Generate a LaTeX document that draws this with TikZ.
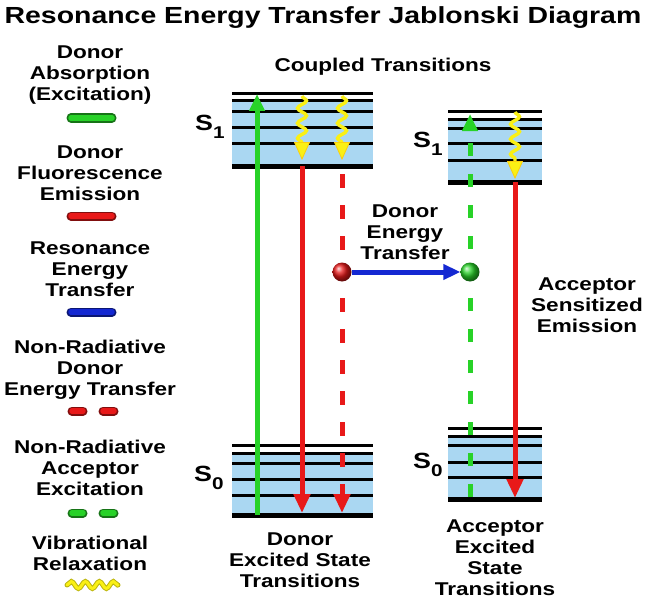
\documentclass[tikz,border=0pt]{standalone}
\usepackage{fontspec}
\setmainfont{Liberation Sans}[FakeStretch=1.22]
\usetikzlibrary{arrows.meta,decorations.pathmorphing,shapes.geometric}
\definecolor{lvlblue}{RGB}{170,215,242}
\definecolor{exgreen}{RGB}{40,210,40}
\definecolor{emred}{RGB}{232,25,25}
\definecolor{retblue}{RGB}{20,40,210}
\definecolor{vryellow}{RGB}{250,240,20}
\tikzset{
  lbl/.style={font=\fontsize{18.5}{21}\selectfont\bfseries, align=center, inner sep=0pt},
  slbl/.style={font=\fontsize{22}{22}\selectfont\bfseries, inner sep=0pt, anchor=west},
  lvl/.style={line width=3pt, black},
  lvlb/.style={line width=5pt, black},
  grarrow/.style={draw=exgreen, line width=5pt, -{Triangle[width=15pt,length=17pt,fill=exgreen,color=exgreen]}},
  rdarrow/.style={draw=emred, line width=5pt, -{Triangle[width=16pt,length=19pt,fill=emred,color=emred]}},
  bluearrow/.style={draw=retblue, line width=5pt, -{Triangle[width=15pt,length=17pt,fill=retblue,color=retblue]}},
  rddash/.style={rdarrow, dash pattern=on 14pt off 17pt},
  grdash/.style={grarrow, dash pattern=on 13pt off 18pt},
  wavy/.style={draw=vryellow, line width=3.4pt, decorate,
     decoration={snake, amplitude=4.5pt, segment length=15pt, post length=13pt},
     -{Triangle[width=16pt,length=18pt,fill=vryellow,color=vryellow!70!orange,line width=0.8pt]}},
  pill/.style={line width=9pt, line cap=round},
  pillin/.style={line width=5.5pt, line cap=round},
  ballnode/.style={circle, inner sep=0pt, minimum size=19pt, shading=ball}
}
\begin{document}
\begin{tikzpicture}[x=1pt,y=-1pt]
\useasboundingbox (0,0) rectangle (647,599);

% Title
\node[font=\fontsize{23.3}{26}\selectfont\bfseries, inner sep=0pt] (title) at (323,18) {Resonance Energy Transfer Jablonski Diagram};

% Legend
\node[lbl] (l1) at (90,75) {Donor\\Absorption\\(Excitation)};
\coordinate (p1a) at (71,118); \coordinate (p1b) at (112,118);
\draw[pill, draw=exgreen!55!black] (p1a) -- (p1b);
\draw[pillin, draw=exgreen] (p1a) -- (p1b);

\node[lbl] (l2) at (90,173) {Donor\\Fluorescence\\Emission};
\coordinate (p2a) at (71,216); \coordinate (p2b) at (112,216);
\draw[pill, draw=emred!55!black] (p2a) -- (p2b);
\draw[pillin, draw=emred] (p2a) -- (p2b);

\node[lbl] (l3) at (90,269) {Resonance\\Energy\\Transfer};
\coordinate (p3a) at (71,312); \coordinate (p3b) at (112,312);
\draw[pill, draw=retblue!55!black] (p3a) -- (p3b);
\draw[pillin, draw=retblue] (p3a) -- (p3b);

\node[lbl] (l4) at (90,370) {Non-Radiative\\Donor\\Energy Transfer};
\coordinate (p4a) at (72,411); \coordinate (p4b) at (83,411);
\coordinate (p4c) at (103,411); \coordinate (p4d) at (114,411);
\draw[pill, draw=emred!55!black] (p4a) -- (p4b);
\draw[pill, draw=emred!55!black] (p4c) -- (p4d);
\draw[pillin, draw=emred] (p4a) -- (p4b);
\draw[pillin, draw=emred] (p4c) -- (p4d);

\node[lbl] (l5) at (90,468) {Non-Radiative\\Acceptor\\Excitation};
\coordinate (p5a) at (72,513); \coordinate (p5b) at (83,513);
\coordinate (p5c) at (103,513); \coordinate (p5d) at (114,513);
\draw[pill, draw=exgreen!55!black] (p5a) -- (p5b);
\draw[pill, draw=exgreen!55!black] (p5c) -- (p5d);
\draw[pillin, draw=exgreen] (p5a) -- (p5b);
\draw[pillin, draw=exgreen] (p5c) -- (p5d);

\node[lbl] (l6) at (90,553) {Vibrational\\Relaxation};
\coordinate (p6a) at (67,585); \coordinate (p6b) at (118,585);
\draw[draw=vryellow!75!black, line width=5pt, line cap=round, decorate, decoration={snake, amplitude=3.5pt, segment length=14pt}] (p6a) -- (p6b);
\draw[draw=vryellow, line width=3pt, line cap=round, decorate, decoration={snake, amplitude=3.5pt, segment length=14pt}] (p6a) -- (p6b);

% Headings
\node[lbl] (coupled) at (383,67) {Coupled Transitions};
\node[lbl] (det) at (300,560) {Donor\\Excited State\\Transitions};
\node[lbl] (aet) at (495,558) {Acceptor\\Excited\\State\\Transitions};
\node[lbl] (ase) at (587,305) {Acceptor\\Sensitized\\Emission};
\node[lbl] (detr) at (405,232) {Donor\\Energy\\Transfer};

% Donor S1
\fill[lvlblue] (232,101) rectangle (373,166);
\foreach \yy in {94,101,112,127,143} \draw[lvl] (232,\yy) -- (373,\yy);
\draw[lvlb] (232,166) -- (373,166);
% Donor S0
\fill[lvlblue] (232,453) rectangle (373,515);
\foreach \yy in {445,453,463,479,495} \draw[lvl] (232,\yy) -- (373,\yy);
\draw[lvlb] (232,515) -- (373,515);
% Acceptor S1
\fill[lvlblue] (448,119) rectangle (542,182);
\foreach \yy in {112,119,128,143,160} \draw[lvl] (448,\yy) -- (542,\yy);
\draw[lvlb] (448,182) -- (542,182);
% Acceptor S0
\fill[lvlblue] (448,436) rectangle (542,499);
\foreach \yy in {428,436,445,462,477} \draw[lvl] (448,\yy) -- (542,\yy);
\draw[lvlb] (448,499) -- (542,499);

% State labels
\node[slbl] (sd1) at (195,127) {S\raisebox{-8pt}{\fontsize{17}{17}\selectfont 1}};
\node[slbl] (sd0) at (194,478) {S\raisebox{-8pt}{\fontsize{17}{17}\selectfont 0}};
\node[slbl] (sa1) at (413,144) {S\raisebox{-8pt}{\fontsize{17}{17}\selectfont 1}};
\node[slbl] (sa0) at (413,465) {S\raisebox{-8pt}{\fontsize{17}{17}\selectfont 0}};

% Transition end points
\coordinate (gA0) at (257,515); \coordinate (gA1) at (257,94);
\coordinate (rD0) at (302,166); \coordinate (rD1) at (302,513);
\coordinate (yD0) at (302,96);  \coordinate (yD1) at (302,160);
\coordinate (yE0) at (342,96);  \coordinate (yE1) at (342,160);
\coordinate (rX0) at (342,174); \coordinate (rX1) at (342,513);
\coordinate (gX0) at (470,497); \coordinate (gX1) at (470,114);
\coordinate (yA0) at (515,112); \coordinate (yA1) at (515,179);
\coordinate (rA0) at (515,182); \coordinate (rA1) at (515,498);

\draw[grarrow] (gA0) -- (gA1);
\draw[rdarrow] (rD0) -- (rD1);
\draw[wavy] (yD0) -- (yD1);
\draw[wavy] (yE0) -- (yE1);
\draw[rddash] (rX0) -- (rX1);
\draw[grdash] (gX0) -- (gX1);
\draw[wavy] (yA0) -- (yA1);
\draw[rdarrow] (rA0) -- (rA1);

% Energy transfer
\node[ballnode, ball color=emred] (rball) at (342,272) {};
\node[ballnode, ball color=exgreen] (gball) at (470,272) {};
\draw[bluearrow] (rball) -- (gball);
\end{tikzpicture}
\end{document}
